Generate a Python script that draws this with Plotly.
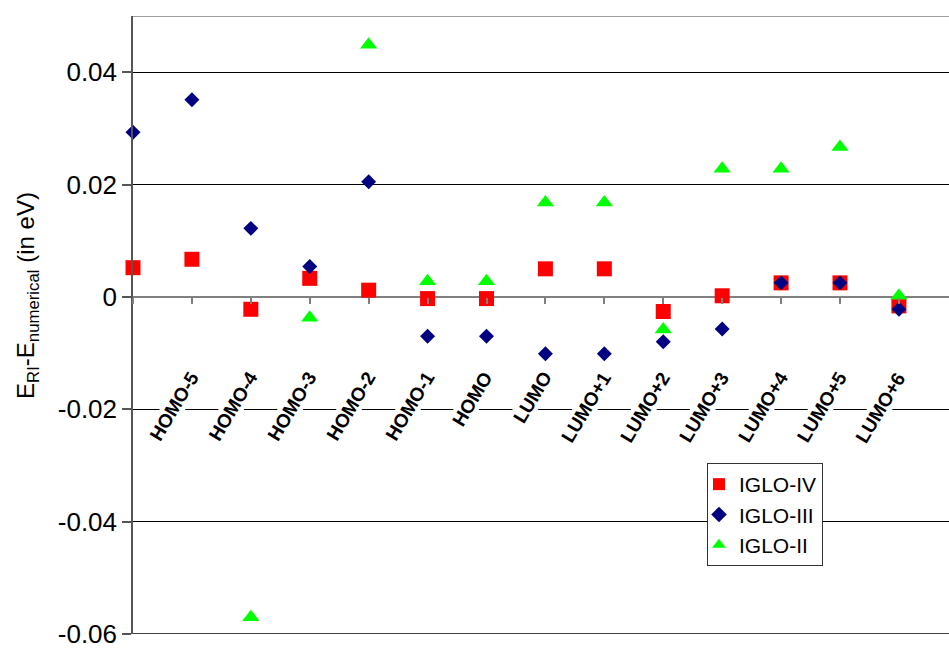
import plotly.graph_objects as go

# Orbital labels along the category axis (first slot carries no label)
orbitals = ["", "HOMO-5", "HOMO-4", "HOMO-3", "HOMO-2", "HOMO-1", "HOMO",
            "LUMO", "LUMO+1", "LUMO+2", "LUMO+3", "LUMO+4", "LUMO+5", "LUMO+6"]

# E_RI - E_numerical in eV for each basis set
iglo_iv = [0.0052, 0.0067, -0.0022, 0.0033, 0.0012, -0.0003, -0.0003,
           0.0050, 0.0050, -0.0026, 0.0002, 0.0025, 0.0025, -0.0016]
iglo_iii = [0.0293, 0.0351, 0.0122, 0.0054, 0.0205, -0.0070, -0.0070,
            -0.0101, -0.0101, -0.0080, -0.0057, 0.0025, 0.0025, -0.0022]
iglo_ii = [None, None, -0.0570, -0.0037, 0.0449, 0.0028, 0.0028,
           0.0168, 0.0168, -0.0058, 0.0228, 0.0228, 0.0267, 0.0002]

y_ticks = [-0.06, -0.04, -0.02, 0, 0.02, 0.04]
y_tick_text = ["-0.06", "-0.04", "-0.02", "0", "0.02", "0.04"]
y_min, y_max = -0.06, 0.05
x_max = 13.85

W, H = 949, 650
M_L, M_R, M_T, M_B = 133, 0, 16, 16
plot_w = W - M_L - M_R
plot_h = H - M_T - M_B

FONT = "Arial"
idx = list(range(len(orbitals)))

fig = go.Figure()
fig.add_trace(go.Scatter(
    x=idx, y=iglo_iv, mode="markers", name="IGLO-IV", cliponaxis=False,
    marker=dict(symbol="square", size=15, color="#FF0000"),
))
fig.add_trace(go.Scatter(
    x=idx, y=iglo_iii, mode="markers", name="IGLO-III", cliponaxis=False,
    marker=dict(symbol="diamond", size=11.5, color="#000080"),
))
fig.add_trace(go.Scatter(
    x=idx, y=iglo_ii, mode="markers", name="IGLO-II", cliponaxis=False,
    marker=dict(symbol="triangle-up", size=15, color="#00FF00"),
))

# rotated category labels hanging below the zero line, each on a white box
label_dx = 12 * x_max / plot_w            # px -> data units
label_dy = -70 * (y_max - y_min) / plot_h
for i, lab in enumerate(orbitals):
    if not lab:
        continue
    fig.add_annotation(
        x=i + label_dx, y=0 + label_dy, xref="x", yref="y", text=lab, showarrow=False,
        textangle=-59, font=dict(family=FONT, size=19, color="black", weight="bold"),
        bgcolor="white", borderpad=0,
        xanchor="right", yanchor="top",
    )

fig.add_annotation(
    x=(28 - M_L) / plot_w, y=(H - M_B - 296) / plot_h, xref="paper", yref="paper",
    text="E<sub>RI</sub>-E<sub>numerical</sub> (in eV)", showarrow=False,
    textangle=-90, font=dict(family=FONT, size=24, color="black"),
    xanchor="center", yanchor="middle",
)

zero_pos = (0 - y_min) / (y_max - y_min)

fig.update_layout(
    width=W, height=H,
    margin=dict(l=M_L, r=M_R, t=M_T, b=M_B),
    paper_bgcolor="white", plot_bgcolor="white",
    showlegend=True,
    legend=dict(
        x=(707 - M_L) / plot_w, y=(H - M_B - 463) / plot_h, xanchor="left", yanchor="top",
        bgcolor="white", bordercolor="#333333", borderwidth=1,
        font=dict(family=FONT, size=21, color="black"),
        itemsizing="constant", indentation=-9,
    ),
    # category axis sits on the zero line
    xaxis=dict(
        range=[0, x_max], anchor="free", position=zero_pos,
        tickmode="array", tickvals=idx, showticklabels=False,
        ticks="outside", ticklen=6, tickwidth=1.5, tickcolor="#808080",
        showline=False, showgrid=False, zeroline=False, automargin=False,
    ),
    yaxis=dict(
        range=[y_min, y_max], tickmode="array", tickvals=y_ticks, ticktext=y_tick_text,
        tickfont=dict(family=FONT, size=26, color="black"),
        ticks="outside", ticklen=9, tickwidth=1.5, tickcolor="#555555",
        showline=True, linecolor="#555555", linewidth=1.5,
        showgrid=True, gridcolor="black", gridwidth=1,
        zeroline=True, zerolinecolor="#808080", zerolinewidth=2,
        automargin=False,
    ),
    shapes=[
        dict(type="line", xref="paper", yref="y", x0=0, x1=1, y0=y_max, y1=y_max,
             line=dict(color="#A0A0A0", width=2), layer="below"),
        dict(type="line", xref="paper", yref="y", x0=0, x1=1, y0=y_min, y1=y_min,
             line=dict(color="black", width=1.5), layer="below"),
    ],
)

fig.write_html("out.html")
